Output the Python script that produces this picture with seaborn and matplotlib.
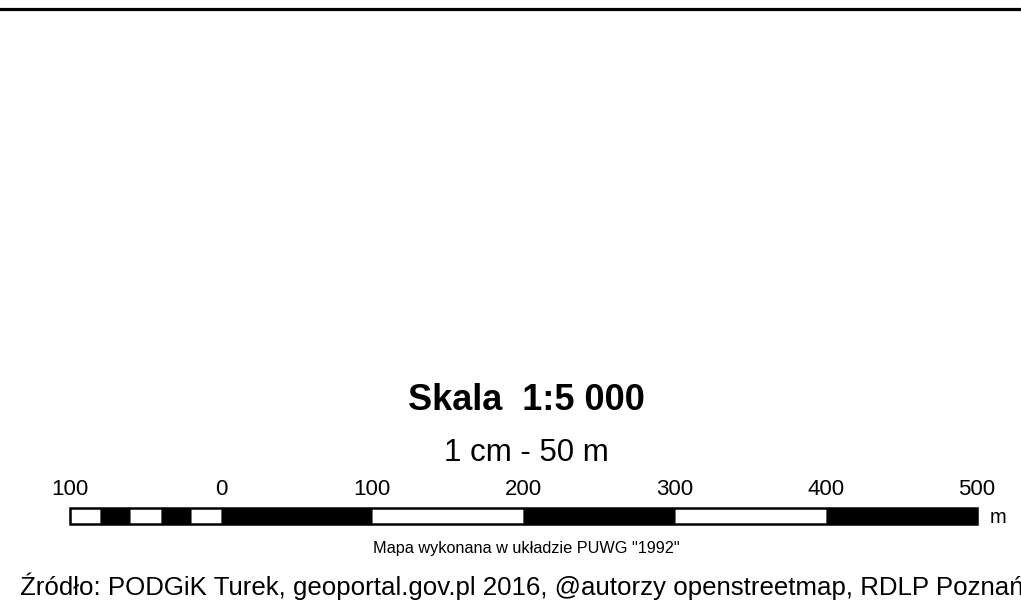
import matplotlib
matplotlib.use("Agg")
import matplotlib.pyplot as plt
import seaborn as sns

# scale bar segments, in metres
seg_start = [-100, -80, -60, -40, -20, 0, 100, 200, 300, 400]
seg_width = [20, 20, 20, 20, 20, 100, 100, 100, 100, 100]
seg_color = ['white', 'black', 'white', 'black', 'white',
             'black', 'white', 'black', 'white', 'black']

tick_pos = [-100, 0, 100, 200, 300, 400, 500]
tick_lab = ['100', '0', '100', '200', '300', '400', '500']

title = 'Skala  1:5 000'
subtitle = '1 cm - 50 m'
note = 'Mapa wykonana w układzie PUWG "1992"'
source = 'Źródło: PODGiK Turek, geoportal.gov.pl 2016, @autorzy openstreetmap, RDLP Poznań'

sns.set_theme(style="white")
plt.rcParams['font.family'] = ['Liberation Sans', 'DejaVu Sans']
plt.rcParams['text.color'] = 'black'

fig = plt.figure(figsize=(10.21, 6.01), dpi=100)
ax = fig.add_axes([0, 0, 1, 1])

# 1 m = 1.512 px, zero at x = 221 px
px = 1.512
x0 = 221
ax.set_xlim(-x0 / px, (1021 - x0) / px)
ax.set_ylim(601, 0)
ax.axis('off')

# top frame line
ax.axhline(9, color='black', lw=2.3)

bar_y = 515.5
bar_h = 16
ax.barh(bar_y, seg_width, left=seg_start, height=bar_h, color=seg_color,
        edgecolor='#666666', linewidth=0.6)
ax.barh(bar_y, sum(seg_width), left=seg_start[0], height=bar_h,
        facecolor='none', edgecolor='black', linewidth=1.8)

for p, lab in zip(tick_pos, tick_lab):
    ax.text(p, 495, lab, ha='center', va='baseline', fontsize=16)
ax.text(tick_pos[-1] + 8.5, 523, 'm', ha='left', va='baseline', fontsize=14.5)

xc = (526 - x0) / px
ax.text(xc, 410, title, ha='center', va='baseline', fontsize=26, fontweight='bold')
ax.text(xc, 461, subtitle, ha='center', va='baseline', fontsize=22.5)
ax.text(xc, 553, note, ha='center', va='baseline', fontsize=11.7)
# the source line runs past the right edge, as in the original
ax.text((20 - x0) / px, 595, source, ha='left', va='baseline', fontsize=18.6)

fig.savefig('out.png', dpi=100)
